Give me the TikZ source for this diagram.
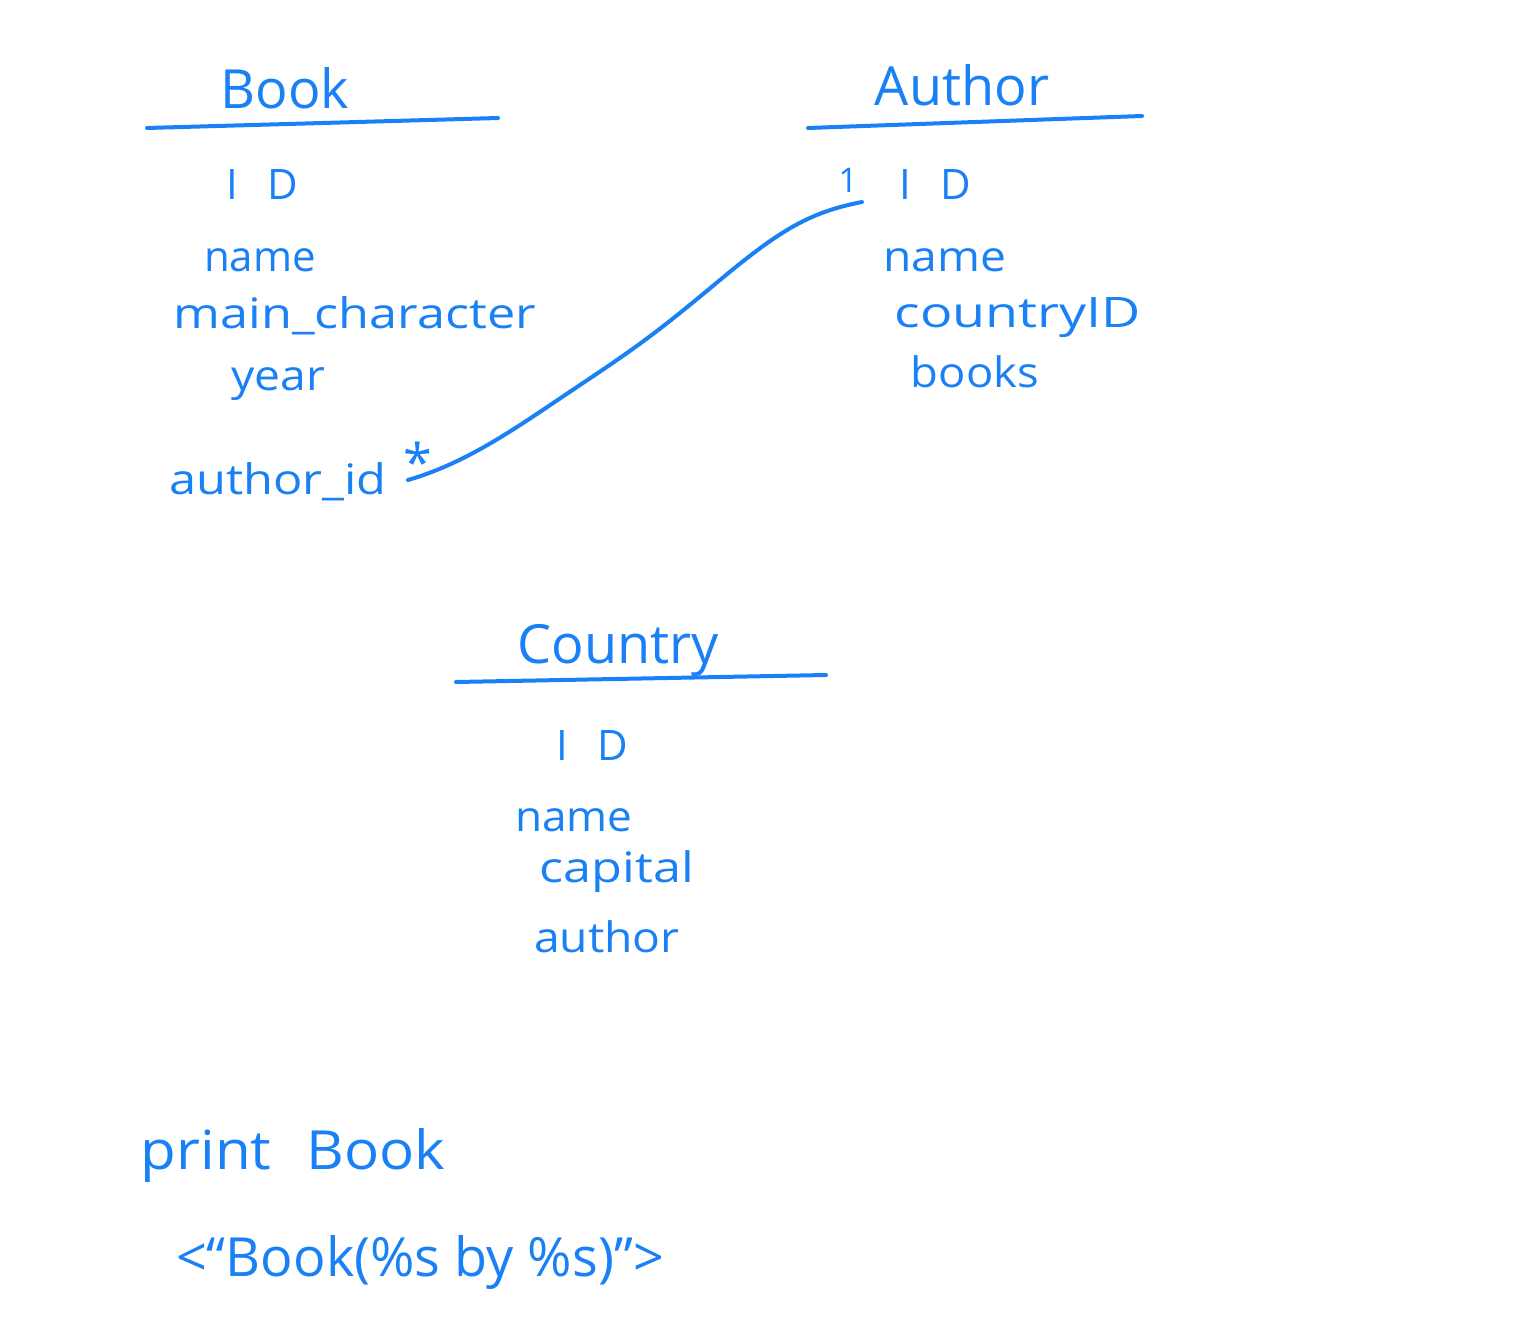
\documentclass[tikz,border=0pt]{standalone}
\usepackage{fontspec}
\setmainfont{Open Sans}
\definecolor{ink}{RGB}{26,128,245}
\begin{document}
\begin{tikzpicture}[x=1pt,y=-1pt,
  ink/.style={draw=ink,line width=4pt,line cap=round},
  title/.style={text=ink,font=\fontsize{54}{60}\selectfont,inner sep=0pt},
  field/.style={text=ink,font=\fontsize{42}{48}\selectfont,inner sep=0pt},
  small/.style={text=ink,font=\fontsize{34}{40}\selectfont,inner sep=0pt}]
\useasboundingbox[fill=white] (0,0) rectangle (1536,1338);
% Book
\node[title] (booktitle) at (285,88) {Book};
\coordinate (bu1) at (147,128); \coordinate (bu2) at (498,118);
\draw[ink] (bu1) -- (bu2);
\node[field] (bid) at (262,185) {I\hspace{0.7em}D};
\node[field] (bname) at (260,260) {name};
\node[field,xscale=1.2] (bmain) at (355,316) {main\_character};
\node[field,xscale=1.1] (byear) at (278,384) {year};
\node[field,xscale=1.16] (bauth) at (278,482) {author\_id};
\node[small,font=\fontsize{52}{56}\selectfont] (star) at (418,462) {*};
% Author
\node[title] (authtitle) at (962,85) {Author};
\coordinate (au1) at (808,128); \coordinate (au2) at (1142,116);
\draw[ink] (au1) -- (au2);
\node[small] (one) at (848,180) {1};
\node[field] (aid) at (935,185) {I\hspace{0.7em}D};
\node[field,xscale=1.1] (aname) at (945,260) {name};
\node[field,xscale=1.28] (acountry) at (1018,318) {countryID};
\node[field,xscale=1.08] (abooks) at (975,372) {books};
% relation
\coordinate (r1) at (408,480);
\coordinate (r2) at (862,202);
\draw[ink] (r1) .. controls (470,462) and (520,425) .. (580,385)
  .. controls (640,345) and (660,330) .. (720,280)
  .. controls (780,230) and (810,212) .. (r2);
% Country
\node[title] (countitle) at (618,650) {Country};
\coordinate (cu1) at (456,682); \coordinate (cu2) at (826,675);
\draw[ink] (cu1) -- (cu2);
\node[field] (cid) at (592,745) {I\hspace{0.7em}D};
\node[field,xscale=1.05] (cname) at (574,820) {name};
\node[field,xscale=1.2] (ccap) at (617,872) {capital};
\node[field,xscale=1.1] (cauth) at (607,937) {author};
% print
\node[title,xscale=1.08] (print) at (293,1155) {print\hspace{0.6em}Book};
\node[title] (fmt) at (420,1262) {<“Book(\%s by \%s)”>};
\end{tikzpicture}
\end{document}
